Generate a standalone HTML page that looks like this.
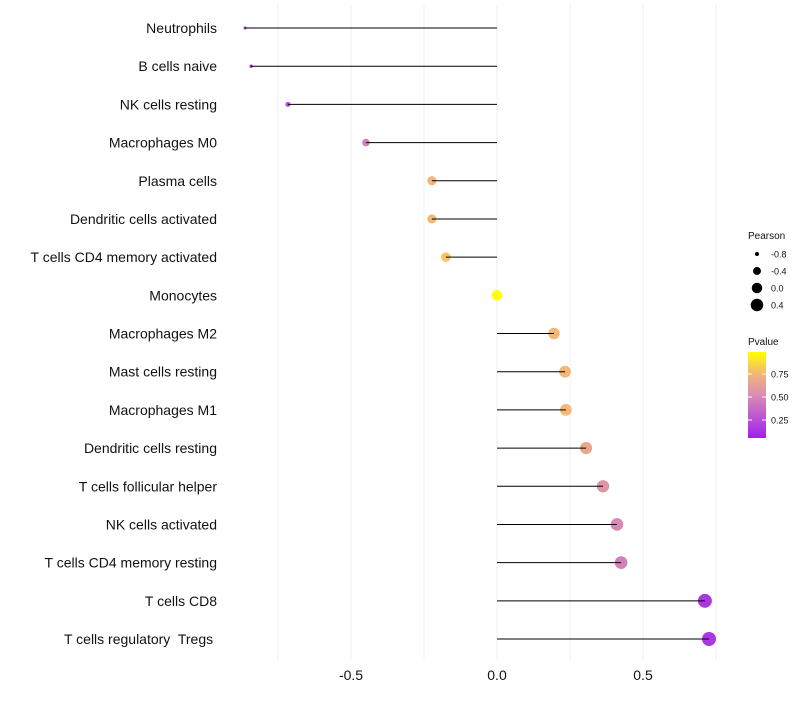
<!DOCTYPE html>
<html><head><meta charset="utf-8"><style>
body{margin:0;background:#fff;font-family:"Liberation Sans",sans-serif}
text{white-space:pre}
</style></head><body>
<svg id="c" width="800" height="700" xmlns="http://www.w3.org/2000/svg">
<defs><linearGradient id="pg" x1="0" y1="1" x2="0" y2="0">
<stop offset="0" stop-color="#a020f0"/><stop offset="0.5" stop-color="#d98cb3"/><stop offset="0.75" stop-color="#f3b776"/><stop offset="1" stop-color="#ffff00"/></linearGradient></defs>
</svg>
<script>
const categories=["Neutrophils","B cells naive","NK cells resting","Macrophages M0","Plasma cells","Dendritic cells activated","T cells CD4 memory activated","Monocytes","Macrophages M2","Mast cells resting","Macrophages M1","Dendritic cells resting","T cells follicular helper","NK cells activated","T cells CD4 memory resting","T cells CD8","T cells regulatory  Tregs "];
const pearson=[-0.863,-0.842,-0.716,-0.449,-0.223,-0.223,-0.175,0,0.195,0.233,0.236,0.305,0.363,0.411,0.425,0.712,0.726];
const pvalue=[0.05,0.05,0.2,0.45,0.75,0.75,0.8,1.0,0.75,0.75,0.75,0.65,0.55,0.48,0.45,0.1,0.1];
const xTicks=[-0.5,0,0.5];
const xTickLabels=["-0.5","0.0","0.5"];
const gridVals=[-0.75,-0.5,-0.25,0,0.25,0.5,0.75];
const sizeLegend=[-0.8,-0.4,0.0,0.4];
const colorTicks=[0.25,0.5,0.75];

const svg=document.getElementById('c');
const NS="http://www.w3.org/2000/svg";
const X=v=>497+v*292;
const Y=i=>28+i*(639-28)/(categories.length-1);
const R=v=>Math.sqrt(Math.max(1,2+29.4*(v+0.87)));
function lerp(a,b,t){return Math.round(a+(b-a)*t);}
const stops=[[0,[160,32,240]],[0.5,[217,140,179]],[0.75,[243,183,118]],[1,[255,255,0]]];
function col(p){for(let k=1;k<stops.length;k++){if(p<=stops[k][0]){const [a,ca]=stops[k-1],[b,cb]=stops[k];const t=(p-a)/(b-a);return `rgb(${lerp(ca[0],cb[0],t)},${lerp(ca[1],cb[1],t)},${lerp(ca[2],cb[2],t)})`;}}return 'rgb(255,255,0)';}
function mk(t,a,p){const e=document.createElementNS(NS,t);for(const k in a)e.setAttribute(k,a[k]);(p||svg).appendChild(e);return e;}

gridVals.forEach(v=>{
const g=mk('line',{x1:X(v),x2:X(v),y1:5,y2:660,stroke:'#efefef','stroke-width':1});


});
xTicks.forEach((v,i)=>{
const t=mk('text',{x:X(v),y:680,'text-anchor':'middle','font-size':14,fill:'#111'});t.textContent=xTickLabels[i];


});
categories.forEach((c,i)=>{
const t=mk('text',{x:217,y:Y(i)+5,'text-anchor':'end','font-size':14,fill:'#111'});t.textContent=c;


const d=mk('circle',{cx:X(pearson[i]),cy:Y(i),r:R(pearson[i]),fill:col(pvalue[i])});


const l=mk('line',{x1:X(0),x2:X(pearson[i]),y1:Y(i),y2:Y(i),stroke:'#000','stroke-width':1});


});
let t=mk('text',{x:748,y:239,'font-size':10,fill:'#111'});t.textContent='Pearson';


sizeLegend.forEach((v,i)=>{
const y=254+i*17;
const c=mk('circle',{cx:757,cy:y,r:R(v),fill:'#000'});


const s=mk('text',{x:771,y:y+3.5,'font-size':9,fill:'#111'});s.textContent=v.toFixed(1);


});
t=mk('text',{x:748,y:345,'font-size':10,fill:'#111'});t.textContent='Pvalue';


const bar=mk('rect',{x:748,y:352,width:18,height:86,fill:'url(#pg)'});


const CY=p=>443-p*92;
colorTicks.forEach(p=>{
mk('line',{x1:748,x2:752,y1:CY(p),y2:CY(p),stroke:'#fff','stroke-width':1});
mk('line',{x1:762,x2:766,y1:CY(p),y2:CY(p),stroke:'#fff','stroke-width':1});
const s=mk('text',{x:771,y:CY(p)+3.5,'font-size':9,fill:'#111'});s.textContent=p.toFixed(2);


});
</script>
</body></html>
